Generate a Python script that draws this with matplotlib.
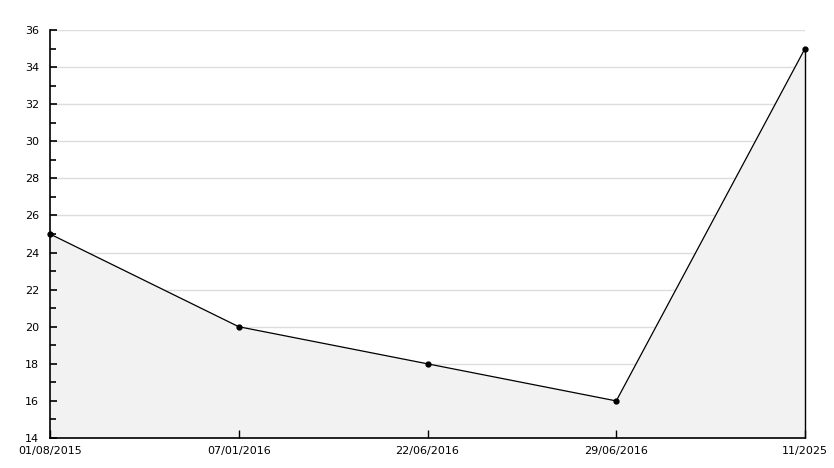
import matplotlib.pyplot as plt
import numpy as np

dates = ["01/08/2015", "07/01/2016", "22/06/2016", "29/06/2016", "11/2025"]
values = [25, 20, 18, 16, 35]
y_ticks = list(range(14, 37, 2))

fig = plt.figure(figsize=(8.34, 4.68), dpi=100)
ax = fig.add_axes([50 / 834, 30 / 468, 755 / 834, 408 / 468])

x = np.arange(len(dates))
# grid sits behind the fill, ticks stay on top
for yv in y_ticks[1:]:
    ax.axhline(yv, color="#dddddd", linewidth=1, zorder=0.5)
ax.fill_between(x, values, 14, color="#f2f2f2", zorder=1)
ax.plot(x, values, color="black", linewidth=0.9, marker="o", markersize=3.5,
        zorder=3, clip_on=False)
ax.vlines(x[-1], 14, values[-1], color="black", linewidth=1, zorder=3, clip_on=False)

ax.set_xlim(0, len(dates) - 1)
ax.set_ylim(14, 36)
ax.set_yticks(y_ticks)
ax.set_yticks(range(15, 36, 2), minor=True)
ax.set_xticks(x)
ax.set_xticklabels(dates)

for side in ["top", "right"]:
    ax.spines[side].set_visible(False)
ax.spines["left"].set_linewidth(1.2)
ax.spines["bottom"].set_linewidth(1.2)

ax.tick_params(axis="y", which="major", direction="in", length=5, width=1.2, labelsize=8, pad=8)
ax.tick_params(axis="y", which="minor", direction="in", length=4, width=1.2)
ax.tick_params(axis="x", direction="in", length=6, width=1, labelsize=8, pad=6)

plt.savefig("out.png", dpi=100)
